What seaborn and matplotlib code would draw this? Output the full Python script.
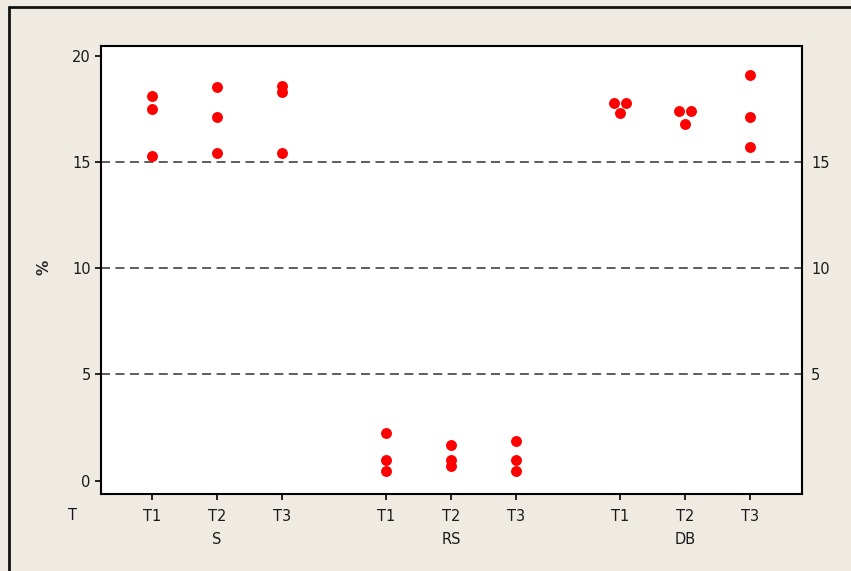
import numpy as np
import pandas as pd
import matplotlib
matplotlib.use('Agg')
import matplotlib.pyplot as plt
from matplotlib.lines import Line2D
import seaborn as sns

# values
groups = ['S', 'RS', 'DB']
times = ['T1', 'T2', 'T3']
s_vals = {'T1': [18.1, 17.5, 15.3], 'T2': [18.55, 17.1, 15.4], 'T3': [18.6, 18.3, 15.4]}
rs_vals = {'T1': [2.25, 0.95, 0.45], 'T2': [1.7, 0.95, 0.7], 'T3': [1.85, 0.95, 0.45]}
db_vals = {'T1': [17.8, 17.8, 17.3], 'T2': [17.4, 17.4, 16.8], 'T3': [19.1, 17.1, 15.7]}
ref_lines = [5, 10, 15]

rows = []
for g, vals in zip(groups, [s_vals, rs_vals, db_vals]):
    for t in times:
        for v in vals[t]:
            rows.append({'group': g, 'time': t, 'value': v})
df = pd.DataFrame(rows)

# x position: groups separated by a gap, equal values side by side
group_gap = 3.6
df['x'] = df['group'].map({g: i * group_gap for i, g in enumerate(groups)}) + \
    df['time'].map({t: i for i, t in enumerate(times)})
df['dup'] = df.groupby(['group', 'time', 'value']).cumcount()
df['ndup'] = df.groupby(['group', 'time', 'value'])['value'].transform('size')
df['x'] = df['x'] + (df['dup'] - (df['ndup'] - 1) / 2) * 0.18

sns.set_style('ticks')
plt.rcParams['font.family'] = ['DejaVu Sans']

bg = '#efebe3'
fig = plt.figure(figsize=(8.51, 5.71), dpi=100, facecolor=bg)
W, H = 851, 571
ax = fig.add_axes([101 / W, 1 - 494 / H, (801.5 - 101) / W, (494 - 46) / H])
ax.set_facecolor('white')

for r in ref_lines:
    ax.axhline(r, color='#505050', linestyle=(0, (5, 3)), linewidth=1.3, zorder=1)

sns.scatterplot(data=df, x='x', y='value', ax=ax, color='#ff0000', s=62,
                marker='o', linewidth=0, zorder=3, legend=False)

ax.set_xlim(-0.785, 9.99)
ax.set_ylim(-0.63, 20.46)

tick_x = [i * group_gap + j for i in range(len(groups)) for j in range(len(times))]
ax.set_xticks(tick_x)
ax.set_xticklabels(times * len(groups))
ax.set_yticks([0, 5, 10, 15, 20])
ax.tick_params(axis='both', labelsize=10.5, length=4.5, width=1.2, color='black',
               labelcolor='#1a1a1a')
ax.tick_params(axis='x', pad=6)
ax.tick_params(axis='y', pad=3)
for sp in ax.spines.values():
    sp.set_visible(True)
    sp.set_linewidth(1.5)
    sp.set_color('black')

ax2 = ax.twinx()
ax2.set_ylim(ax.get_ylim())
ax2.set_yticks(ref_lines)
ax2.tick_params(axis='y', length=0, pad=7, labelsize=10.5, labelcolor='#1a1a1a')
for sp in ax2.spines.values():
    sp.set_visible(False)

ax.set_xlabel('')
ax.set_ylabel('%', fontsize=11, fontweight='bold')
ax.yaxis.set_label_coords(-0.071, 0.505)

# row labels under the axis
lab_y = 1 - (516 - 46) / (494 - 46)
grp_y = 1 - (540 - 46) / (494 - 46)
trans = ax.get_xaxis_transform()
ax.text(-1.23, lab_y, 'T', transform=trans, ha='center', va='center',
        fontsize=10.5, color='#1a1a1a', clip_on=False)
for i, g in enumerate(groups):
    ax.text(i * group_gap + 1, grp_y, g, transform=trans, ha='center', va='center',
            fontsize=10.5, color='#1a1a1a', clip_on=False)

# frame of the graph window
fig.add_artist(Line2D([8.5 / W, 8.5 / W], [0, 1 - 6.5 / H], color='#111111', linewidth=2))
fig.add_artist(Line2D([8.5 / W, 1], [1 - 6.5 / H, 1 - 6.5 / H], color='#111111', linewidth=2))

fig.savefig('out.png', dpi=100, facecolor=bg)
